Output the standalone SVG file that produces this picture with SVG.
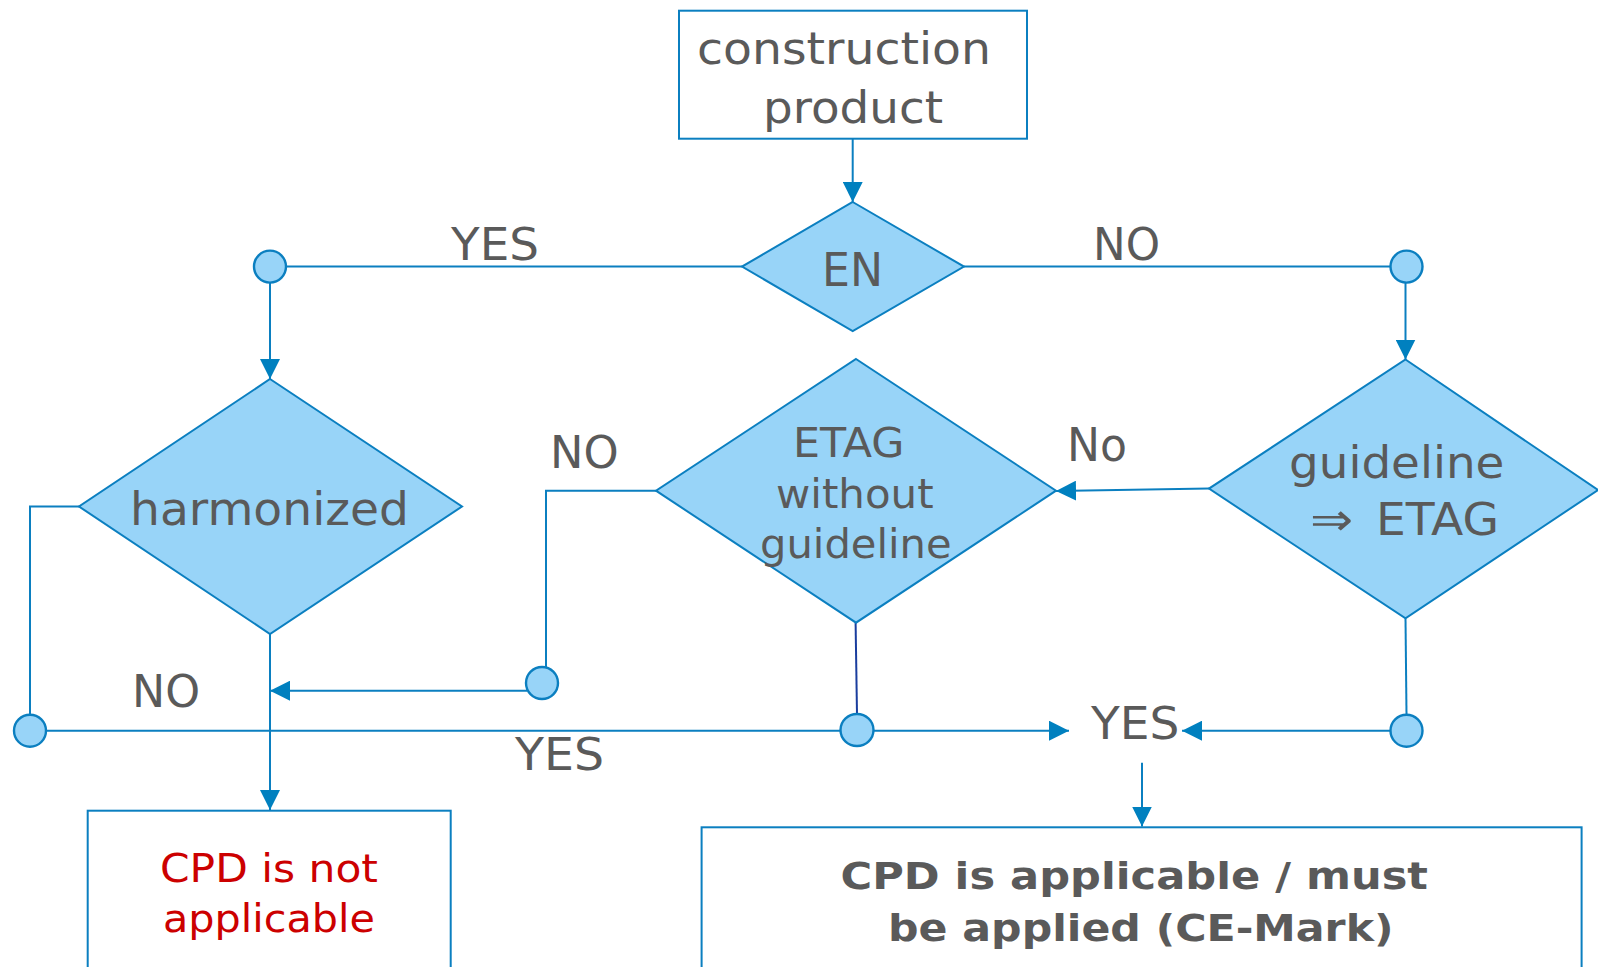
<svg xmlns="http://www.w3.org/2000/svg" width="1598" height="967" viewBox="0 0 1598 967">
<style>
.ln{fill:none;stroke:#0b7fc0;stroke-width:2}
.dm{fill:#98d4f8;stroke:#0b7fc0;stroke-width:2}
.bx{fill:#fff;stroke:#0b7fc0;stroke-width:2}
.jn{fill:#98d4f8;stroke:#0b7fc0;stroke-width:2.4}
.t{font-family:"DejaVu Sans","Liberation Sans",sans-serif;fill:#5a5a5a}
.red{fill:#cc0000}
.b{font-weight:bold}
</style>
<defs>
<marker id="ah" viewBox="0 0 20 20" refX="20" refY="10" markerWidth="20" markerHeight="20" markerUnits="userSpaceOnUse" orient="auto">
<path d="M0,0 L20,10 L0,20 Z" fill="#0080bf"/>
</marker>
</defs>
<rect width="1598" height="967" fill="#fff"/>

<g id="connectors">
<path class="ln" d="M852.7,139 L852.7,202" marker-end="url(#ah)"/>
<path class="ln" d="M742,266.6 L286,266.6"/>
<path class="ln" d="M270,282.5 L270,379" marker-end="url(#ah)"/>
<path class="ln" d="M964,266.6 L1390.5,266.6"/>
<path class="ln" d="M1405.5,282.5 L1405.5,359.5" marker-end="url(#ah)"/>
<path class="ln" d="M79,506.5 L30,506.5 L30,714.7"/>
<path class="ln" d="M46,730.7 L1069,730.7" marker-end="url(#ah)"/>
<path class="ln" d="M270,634 L270,810" marker-end="url(#ah)"/>
<path class="ln" d="M656,490.7 L546,490.7 L546,667"/>
<path class="ln" d="M527,690.7 L270,690.7" marker-end="url(#ah)"/>
<path d="M855.6,623 L857,714" fill="none" stroke="#1a3d9e" stroke-width="2"/>
<path class="ln" d="M1209,488.6 L1056,491" marker-end="url(#ah)"/>
<path class="ln" d="M1405.5,618.4 L1406.5,714.7"/>
<path class="ln" d="M1390.5,730.7 L1182,730.7" marker-end="url(#ah)"/>
<path class="ln" d="M1142,762.7 L1142,826.5" marker-end="url(#ah)"/>
</g>

<g id="labels">
<text class="t" x="451" y="259.6" font-size="45" textLength="88" lengthAdjust="spacingAndGlyphs">YES</text>
<text class="t" x="1093" y="259.6" font-size="45" textLength="67" lengthAdjust="spacingAndGlyphs">NO</text>
<text class="t" x="550" y="467.7" font-size="45" textLength="68.6" lengthAdjust="spacingAndGlyphs">NO</text>
<text class="t" x="1067" y="461" font-size="46" textLength="60" lengthAdjust="spacingAndGlyphs">No</text>
<text class="t" x="132" y="707" font-size="45" textLength="68" lengthAdjust="spacingAndGlyphs">NO</text>
<text class="t" x="515" y="770" font-size="45" textLength="89" lengthAdjust="spacingAndGlyphs">YES</text>
<text class="t" x="1091" y="739" font-size="45" textLength="88.5" lengthAdjust="spacingAndGlyphs">YES</text>
</g>

<g id="n-construction-product">
<rect class="bx" x="679" y="10.7" width="348" height="128"/>
<text class="t" font-size="45"><tspan x="697" y="64" textLength="294" lengthAdjust="spacingAndGlyphs">construction</tspan><tspan x="763" y="122.7" textLength="180" lengthAdjust="spacingAndGlyphs">product</tspan></text>
</g>

<g id="n-en">
<polygon class="dm" points="852.7,202 964,266.6 852.7,331 742,266.6"/>
<text class="t" x="822" y="285.7" font-size="45.5" textLength="61" lengthAdjust="spacingAndGlyphs">EN</text>
</g>

<g id="n-harmonized">
<polygon class="dm" points="270,379 462,506.5 270,634 79,506.5"/>
<text class="t" x="130" y="524.8" font-size="46" textLength="279" lengthAdjust="spacingAndGlyphs">harmonized</text>
</g>

<g id="n-etag">
<polygon class="dm" points="856,359 1056,490.7 856,622.7 656,490.7"/>
<text class="t" font-size="41"><tspan x="793" y="456.7" textLength="111.5" lengthAdjust="spacingAndGlyphs">ETAG</tspan><tspan x="776" y="507.7" textLength="157.6" lengthAdjust="spacingAndGlyphs">without</tspan><tspan x="760" y="558" textLength="191.6" lengthAdjust="spacingAndGlyphs">guideline</tspan></text>
</g>

<g id="n-guideline">
<polygon class="dm" points="1405.5,359.5 1598,490 1405.5,618.4 1209,488.6"/>
<text class="t" font-size="45"><tspan x="1289" y="478.3" textLength="215.4" lengthAdjust="spacingAndGlyphs">guideline</tspan><tspan x="1309.7" y="535" textLength="43.5" lengthAdjust="spacingAndGlyphs" font-weight="normal" style="font-family:'DejaVu Sans',sans-serif;font-weight:200">⇒</tspan><tspan x="1376" y="535" textLength="123" lengthAdjust="spacingAndGlyphs">ETAG</tspan></text>
</g>

<g id="junctions">
<circle class="jn" cx="270" cy="266.6" r="16"/>
<circle class="jn" cx="1406.5" cy="266.6" r="16"/>
<circle class="jn" cx="30" cy="730.7" r="16"/>
<ellipse class="jn" cx="542" cy="683" rx="16" ry="16"/>
<ellipse class="jn" cx="857" cy="730" rx="16.5" ry="16"/>
<circle class="jn" cx="1406.5" cy="730.7" r="16"/>
</g>

<g id="n-not-applicable">
<rect class="bx" x="87.7" y="810.7" width="363" height="170"/>
<text class="t red" font-size="39"><tspan x="160" y="881.7" textLength="218" lengthAdjust="spacingAndGlyphs">CPD is not</tspan><tspan x="163" y="932" textLength="212" lengthAdjust="spacingAndGlyphs">applicable</tspan></text>
</g>

<g id="n-applicable">
<rect class="bx" x="701.6" y="827.3" width="880" height="160"/>
<text class="t b" font-size="37.5"><tspan x="840.5" y="889" textLength="587.5" lengthAdjust="spacingAndGlyphs">CPD is applicable / must</tspan><tspan x="888" y="941" textLength="505.5" lengthAdjust="spacingAndGlyphs">be applied (CE-Mark)</tspan></text>
</g>
</svg>
